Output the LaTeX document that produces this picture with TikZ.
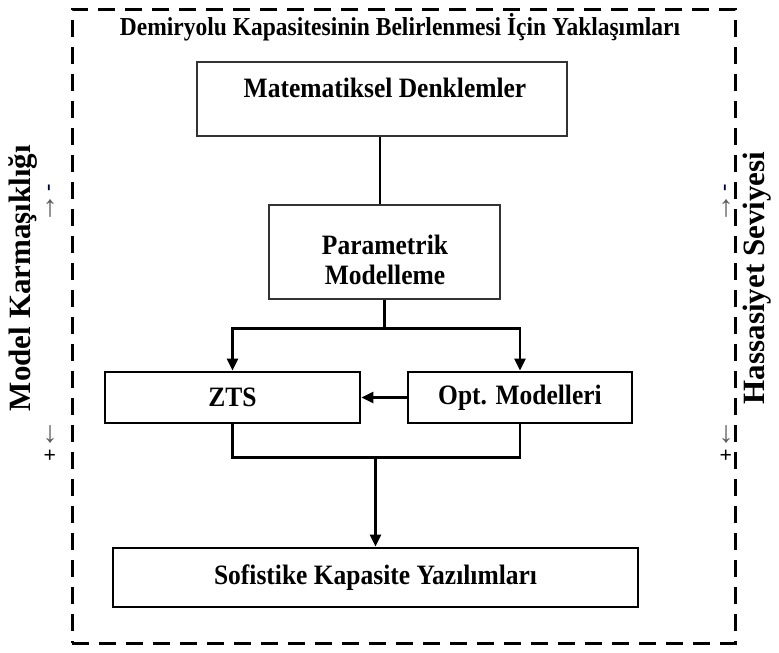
\documentclass[tikz,border=0pt]{standalone}
\usepackage{fontspec}
\setmainfont{Liberation Serif}
\usetikzlibrary{arrows.meta}
\newcommand\ttlfont{\fontsize{23.5}{26}\selectfont\bfseries}
\newcommand\bxfont{\fontsize{25.5}{30}\selectfont\bfseries}
\newcommand\sdfont{\fontsize{31}{34}\selectfont\bfseries}
\newcommand\mkfont{\fontsize{22}{22}\selectfont}
\newcommand\arfont{\fontsize{30}{30}\selectfont}
% slightly tall lettering
\newcommand\tall[1]{\scalebox{1}[1.1]{#1}}
\begin{document}
\begin{tikzpicture}[x=1pt,y=-1pt,
  lightbox/.style={draw=black!80,line width=1.5pt,inner sep=0pt},
  heavybox/.style={draw=black,line width=2.8pt,inner sep=0pt,font=\bxfont},
  conn/.style={draw=black,line width=2.8pt,line join=miter},
  arrow/.style={conn,-{Triangle[length=12pt,width=11pt]}},
  frame/.style={draw=black,line width=3pt,dash pattern=on 17pt off 10pt,inner sep=0pt},
  sidelabel/.style={font=\sdfont,rotate=90,inner sep=0pt},
  scalemark/.style={font=\mkfont,rotate=90,inner sep=0pt,text=black!65}
]
\useasboundingbox (0,0) rectangle (779,653);

% outer dashed frame and title
\node[frame,minimum width=663pt,minimum height=634pt] (frame) at (403.5,326) {};
\node[font=\ttlfont,inner sep=0pt] (title) at (400,27) {\tall{Demiryolu Kapasitesinin Belirlenmesi İçin Yaklaşımları}};

% upper boxes
\node[lightbox,minimum width=370pt,minimum height=74pt] (box1) at (382,99) {};
\node[font=\bxfont,inner sep=0pt] (t1) at (385,88) {\tall{Matematiksel Denklemler}};
\node[lightbox,minimum width=231pt,minimum height=94pt] (box2) at (384.5,252) {};
\node[font=\bxfont,align=center,inner sep=0pt] (t2) at (385,260) {\tall{Parametrik}\\\tall{Modelleme}};

% middle and lower boxes
\node[heavybox,minimum width=255pt,minimum height=51pt] (zts) at (232.5,397.5) {\tall{ZTS}};
\node[heavybox,minimum width=224pt,minimum height=51pt] (opt) at (520,397.5) {\tall{Opt. Modelleri}};
\node[heavybox,minimum width=525pt,minimum height=59pt] (soft) at (375.5,577.5) {\tall{Sofistike Kapasite Yazılımları}};

% connectors
\draw[conn] (box1.south -| 380,0) -- (box2.north -| 380,0);
\draw[conn] (box2.south) -- ++(0,29) coordinate (split);
\draw[arrow] (split) -| (zts.north);
\draw[arrow] (split) -| (opt.north);
\draw[arrow] (opt.west) -- (zts.east);
\path (zts.south) ++(0,33) coordinate (zb);
\draw[conn] (zts.south) -- (zb) -- (zb -| opt.south) -- (opt.south);
\draw[arrow] (zb -| soft.north) -- (soft.north);

% side labels
\node[sidelabel] (lblL) at (23,278) {Model Karmaşıklığı};
\node[sidelabel] (lblR) at (757,278) {Hassasiyet Seviyesi};

% side scale marks
\node[scalemark,text=blue!25!black,font=\mkfont\bfseries] (minL) at (51,188) {-};
\node[scalemark,font=\arfont] (upL) at (51,208) {→};
\node[scalemark,font=\arfont] (dnL) at (51,434) {←};
\node[scalemark,text=black,font=\mkfont\bfseries] (plL) at (51,455) {+};
\node[scalemark,text=blue!25!black,font=\mkfont\bfseries] (minR) at (727,188) {-};
\node[scalemark,font=\arfont] (upR) at (727,208) {→};
\node[scalemark,font=\arfont] (dnR) at (727,434) {←};
\node[scalemark,text=black,font=\mkfont\bfseries] (plR) at (727,455) {+};
\end{tikzpicture}
\end{document}
